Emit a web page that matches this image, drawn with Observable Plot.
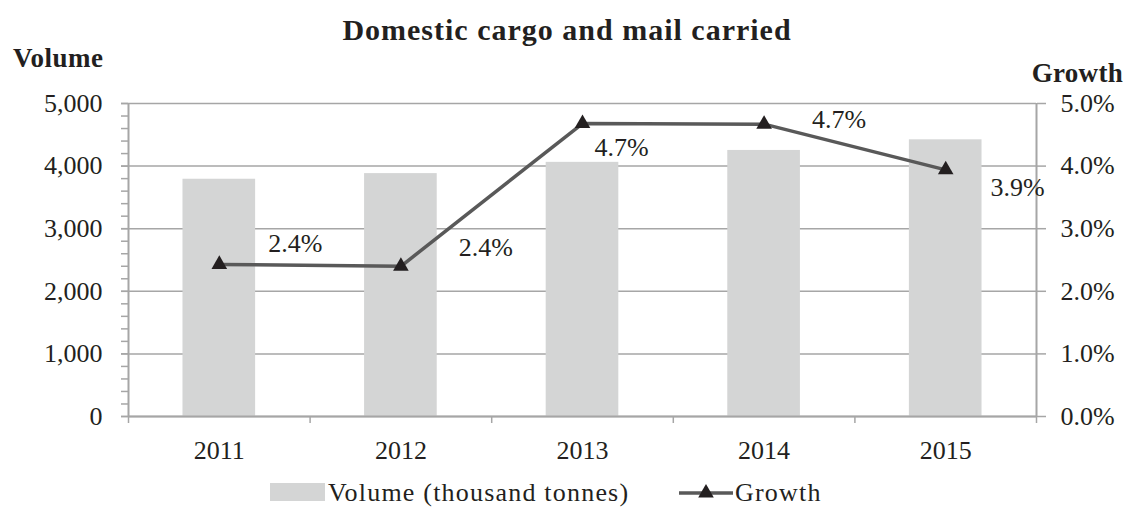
<!DOCTYPE html>
<html>
<head>
<meta charset="utf-8">
<script src="https://cdn.jsdelivr.net/npm/d3@7"></script>
<script src="https://cdn.jsdelivr.net/npm/@observablehq/plot@0.6"></script>
<style>
  html, body { margin: 0; padding: 0; background: #ffffff; }
  #chart { position: relative; width: 1128px; height: 511px; }
  svg text { font-family: "Liberation Serif", "Times New Roman", serif; }
</style>
</head>
<body>
<div id="chart"></div>
<script>
// ---- data ----
const years = [2011, 2012, 2013, 2014, 2015];
const volume = [3790, 3880, 4060, 4250, 4420];          // thousand tonnes
const growth = [2.43, 2.40, 4.68, 4.67, 3.94];          // percent
const growthLabels = ["2.4%", "2.4%", "4.7%", "4.7%", "3.9%"];
const volumeTicks = [0, 1000, 2000, 3000, 4000, 5000];
const volumeTickLabels = ["0", "1,000", "2,000", "3,000", "4,000", "5,000"];
const growthTickLabels = ["0.0%", "1.0%", "2.0%", "3.0%", "4.0%", "5.0%"];
const minorTicks = [0, 200, 400, 600, 800, 1000, 1200, 1400, 1600, 1800, 2000, 2200, 2400,
  2600, 2800, 3000, 3200, 3400, 3600, 3800, 4000, 4200, 4400, 4600, 4800, 5000];

const rows = years.map((year, i) => ({year, volume: volume[i], growth: growth[i], label: growthLabels[i]}));
const boundaries = [years[0] - 0.5, ...years.map(y => y + 0.5)];
// growth (0–5%) shares the vertical extent of volume (0–5000)
const gScale = volumeTicks[volumeTicks.length - 1] / 5;

const TEXT = "#231f20";
const GRID = "#a6a6a6";
const BAR = "#d4d5d5";
const LINE = "#595959";

const labelPlacement = [
  {dx: 76, dy: -21},
  {dx: 85, dy: -19},
  {dx: 39, dy: 24},
  {dx: 75, dy: -4},
  {dx: 72, dy: 18}
];

const plot = Plot.plot({
  width: 1128,
  height: 511,
  marginLeft: 128,
  marginRight: 92,
  marginTop: 103,
  marginBottom: 95,
  style: {fontFamily: "Liberation Serif", fontSize: "26px", color: TEXT, background: "#ffffff"},
  x: {type: "linear", domain: [boundaries[0], boundaries[boundaries.length - 1]], label: null},
  y: {domain: [0, 5000], label: null},
  marks: [
    Plot.gridY(volumeTicks, {stroke: GRID, strokeOpacity: 1, strokeWidth: 1.5}),
    Plot.rectY(rows, {x1: d => d.year - 0.2, x2: d => d.year + 0.2, y: "volume", fill: BAR}),
    Plot.ruleX([boundaries[0], boundaries[boundaries.length - 1]], {stroke: GRID, strokeWidth: 2}),
    Plot.ruleY([0], {stroke: GRID, strokeWidth: 2}),
    // left axis: minor + major ticks and labels
    Plot.axisY(minorTicks, {anchor: "left", tickSize: 7, tickFormat: () => "", stroke: GRID, strokeWidth: 1.5}),
    Plot.axisY(volumeTicks, {anchor: "left", tickSize: 7, tickPadding: 19, stroke: GRID, strokeWidth: 1.5,
      fill: TEXT, fontSize: 26, tickFormat: d => volumeTickLabels[volumeTicks.indexOf(d)]}),
    // right axis
    Plot.axisY(volumeTicks, {anchor: "right", tickSize: 9, tickPadding: 15, stroke: GRID, strokeWidth: 1.5,
      fill: TEXT, fontSize: 26, tickFormat: d => growthTickLabels[volumeTicks.indexOf(d)]}),
    // x axis: ticks at category boundaries, labels at centers
    Plot.axisX(boundaries, {anchor: "bottom", tickSize: 7, tickFormat: () => "", stroke: GRID, strokeWidth: 1.5}),
    Plot.axisX(years, {anchor: "bottom", tickSize: 0, tickPadding: 24, fill: TEXT, fontSize: 26, tickFormat: d => String(d)}),
    // growth line
    Plot.line(rows, {x: "year", y: d => d.growth * gScale, stroke: LINE, strokeWidth: 3.5}),
    Plot.dot(rows, {x: "year", y: d => d.growth * gScale, symbol: "triangle", r: 5.8, fill: TEXT, stroke: "none"}),
    ...labelPlacement.map((p, i) => Plot.text(rows, {
      filter: (d, j) => j === i,
      x: "year", y: d => d.growth * gScale, text: "label",
      dx: p.dx, dy: p.dy, fill: TEXT, fontSize: 26
    }))
  ]
});

document.getElementById("chart").appendChild(plot);

// titles and legend
const svg = d3.select(plot);
svg.append("text")
  .attr("x", 567).attr("y", 40)
  .attr("text-anchor", "middle")
  .attr("font-size", 30).attr("font-weight", "bold")
  .attr("letter-spacing", 1)
  .attr("fill", TEXT)
  .text("Domestic cargo and mail carried");
svg.append("text")
  .attr("x", 13).attr("y", 67)
  .attr("text-anchor", "start")
  .attr("font-size", 27).attr("font-weight", "bold")
  .attr("letter-spacing", 0.5)
  .attr("fill", TEXT)
  .text("Volume");
svg.append("text")
  .attr("x", 1123).attr("y", 82)
  .attr("text-anchor", "end")
  .attr("font-size", 27).attr("font-weight", "bold")
  .attr("letter-spacing", 0.3)
  .attr("fill", TEXT)
  .text("Growth");

const lg = svg.append("g").attr("text-anchor", "start");
lg.append("rect").attr("x", 270).attr("y", 483).attr("width", 55).attr("height", 18).attr("fill", BAR);
lg.append("text").attr("x", 328).attr("y", 501)
  .attr("text-anchor", "start")
  .attr("font-size", 26).attr("letter-spacing", 1.2).attr("fill", TEXT)
  .text("Volume (thousand tonnes)");
lg.append("line").attr("x1", 679).attr("x2", 733).attr("y1", 493).attr("y2", 493)
  .attr("stroke", LINE).attr("stroke-width", 3.5);
lg.append("path").attr("transform", "translate(706,493)")
  .attr("d", d3.symbol(d3.symbolTriangle, Math.PI * 5.8 * 5.8)())
  .attr("fill", TEXT);
lg.append("text").attr("x", 735).attr("y", 501)
  .attr("text-anchor", "start")
  .attr("font-size", 26).attr("letter-spacing", 1.2).attr("fill", TEXT)
  .text("Growth");
</script>
</body>
</html>
